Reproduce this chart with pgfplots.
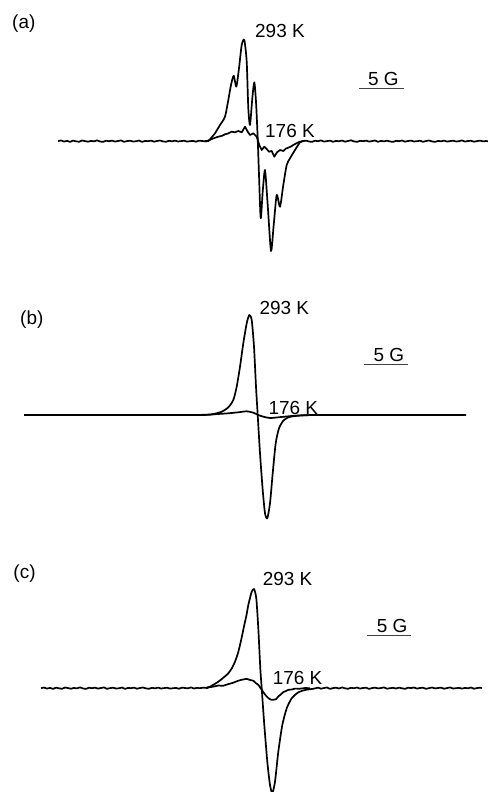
\documentclass[border=0pt]{standalone}
\usepackage{fontspec}
\setmainfont{Liberation Sans}
\usepackage{pgfplots}
\pgfplotsset{compat=1.18}
\tikzset{lab/.style={font=\fontsize{19}{21}\selectfont, inner sep=0pt, anchor=base west}}
\pgfplotsset{spec/.style={black, line width=1.7bp, no markers, smooth, tension=0.4, line join=round},
  noisy/.style={black, line width=1.7bp, no markers, sharp plot, line join=round}}
\begin{document}
\begin{tikzpicture}
\begin{axis}[
  scale only axis, width=488bp, height=792bp,
  xmin=0, xmax=488, ymin=0, ymax=792, y dir=reverse,
  hide axis,
]
% ---------- panel (a) ----------
\addplot[noisy] coordinates {
(58,141.2)(61,140.4)(64,141.6)(67,140.8)(70,141.9)(73,140.6)(76,141.3)(79,141.8)(82,140.5)(85,141.1)
(88,141.7)(91,140.9)(94,141.4)(97,140.3)(100,141.5)(103,141.9)(106,140.7)(109,141.2)(112,140.6)(115,141.6)
(118,141.0)(121,140.4)(124,141.8)(127,141.1)(130,140.7)(133,141.5)(136,141.3)(139,140.5)(142,141.9)(145,140.9)
(148,141.2)(151,140.6)(154,141.7)(157,141.0)(160,140.5)(163,141.4)(166,141.8)(169,140.8)(172,141.3)(175,140.6)
(178,141.5)(181,141.1)(184,140.7)(187,141.6)(190,141.2)(193,140.9)(196,141.7)(199,140.6)(202,141.0)(205,141.3)
(208.3,141)
};
\addplot[spec] coordinates {
(205,141.3)(208.3,141)(211.5,137.5)(215,133.3)(220,125)(225,116.7)(228.3,100)(231,85)(233.7,75.7)(236.3,86.7)(239,68.3)
(241.7,45)(244.3,40)(246.7,61.7)(248.3,108.3)(250,125)(252.3,98.3)(254.3,82.3)(256,101.7)(257.7,138.3)(259,175)
(260.7,218.3)(262.7,191.7)(265,170)(267.7,205)(271,251)(273.7,225)(276.7,195)(280,206.7)(283.3,185)(286.7,165)
(290,158.3)(295,150)(300,142.3)(303,141.2)
};
\addplot[noisy] coordinates {
(303,141.2)(306,140.6)(309,141.5)(312,141.9)(315,140.7)(318,141.2)(321,140.4)(324,141.6)(327,141.1)(330,140.6)(333,141.8)
(336,140.9)(339,141.3)(342,140.5)(345,141.7)(348,141.0)(351,140.3)(354,141.4)(357,141.9)(360,140.8)(363,141.2)
(366,140.6)(369,141.6)(372,141.1)(375,140.5)(378,141.8)(381,140.9)(384,141.4)(387,140.7)(390,141.5)(393,141.9)
(396,140.8)(399,141.2)(402,140.5)(405,141.7)(408,141.0)(411,140.6)(414,141.5)(417,141.2)(420,140.7)(423,141.8)
(426,141.0)(429,140.5)(432,141.4)(435,141.9)(438,140.9)(441,141.3)(444,140.6)(447,141.6)(450,141.1)(453,140.7)
(456,141.5)(459,141.2)(462,140.4)(465,141.6)(468,141.0)(471,140.8)(474,141.7)(477,141.1)(480,140.6)(483,141.4)
(486,141.0)(488,141.3)
};
\addplot[noisy] coordinates {
(205,141.2)(208.3,140.6)(213,138.5)(218.3,136.7)(222,135.8)(225,134.3)(228,133.5)(231.7,131.7)(235,132.3)
(238.3,131)(241.7,132.3)(245,126.7)(247.7,131.7)(250,135)(253.3,133.3)(256.7,136.7)(259.3,145)(261.7,150)
(264.3,146.7)(266.7,149)(269,151.7)(271.7,151)(274.3,156.7)(277,152.3)(280,150)(283.3,151)(286,148.5)
(288.3,147.7)(291,146.5)(293.3,145)(296,143.5)(298.3,142.3)(301,141.5)(303.3,141)
};
\node[lab] at (axis cs:12,28.3) {(a)};
\node[lab] at (axis cs:255,37.3) {293 K};
\node[lab] at (axis cs:265,137.3) {176 K};
\node[lab] at (axis cs:368,85.3) {5 G};
\draw[line width=0.8bp, black!75] (axis cs:359,88) -- (axis cs:404,88);
% ---------- panel (b) ----------
\addplot[spec] coordinates {
(24,415)(100,415)(180,415)(200,414.9)(211.7,414.3)(221.7,411.7)(228.3,407.3)(233.3,400)(236.7,386.7)
(240,366.7)(243.3,343.3)(246.7,323.3)(249.3,315)(251.7,320)(254,346.7)(256,386.7)(257.7,415)(260,453.3)
(262.7,490)(265,513.3)(267.3,518.3)(270,503.3)(272.7,473.3)(275.7,443.3)(279,428.3)(283.3,420.7)
(288.3,417.3)(295,416)(305,415.3)(320,415)(400,415)(466,415)
};
\addplot[spec] coordinates {
(200,415)(208.3,414.8)(218,414)(228.3,413.3)(238.3,412.3)(246.7,411.3)(253.3,412.7)(258.3,415)
(263.3,416.7)(270,418)(278.3,417.3)(288.3,416.3)(301.7,415.3)(315,415)
};
\node[lab] at (axis cs:20,324) {(b)};
\node[lab] at (axis cs:259.3,314.7) {293 K};
\node[lab] at (axis cs:268.3,414) {176 K};
\node[lab] at (axis cs:373.3,361.7) {5 G};
\draw[line width=0.8bp, black!75] (axis cs:364,364.7) -- (axis cs:408.3,364.7);
% ---------- panel (c) ----------
\addplot[noisy] coordinates {
(41,688.2)(44,687.5)(47,688.6)(50,687.8)(53,688.9)(56,687.6)(59,688.3)(62,688.8)(65,687.5)(68,688.1)
(71,688.7)(74,687.9)(77,688.4)(80,687.3)(83,688.5)(86,688.9)(89,687.7)(92,688.2)(95,687.6)(98,688.6)
(101,688.0)(104,687.4)(107,688.8)(110,688.1)(113,687.7)(116,688.5)(119,688.3)(122,687.5)(125,688.9)(128,687.9)
(131,688.2)(134,687.6)(137,688.7)(140,688.0)(143,687.5)(146,688.4)(149,688.8)(152,687.8)(155,688.3)(158,687.6)
(161,688.5)(164,688.1)(167,687.7)(170,688.6)(173,688.2)(176,687.9)(179,688.7)(182,687.6)(185,688.0)(188,688.3)
(191,687.4)(194,688.5)(197,687.8)(200,688.2)(203,687.6)(206,687.9)(208.3,687.5)
};
\addplot[spec] coordinates {
(206,687.9)(208.3,687.5)(213,685)(218.3,681.7)(223,678)(228.3,673.3)(232,668)(235,661.7)(238,653)(240,645)(242,636)
(244.3,625)(246.5,615)(248.3,605)(250,598)(251.7,591.7)(254,589)(256.3,598.3)(258.3,628.3)(260.3,668.3)
(261.7,688.3)(264.3,725)(267.3,761.7)(270,785)(272.3,793)(275,781.7)(278.3,751.7)(282.3,725)(286.7,708.3)
(291.7,698.3)(298.3,692.3)(305,690)(311.7,689)(315,688.4)
};
\addplot[noisy] coordinates {
(315,688.4)(318,687.6)(321,688.7)(324,688.0)(327,687.5)(330,688.9)(333,688.1)(336,687.7)(339,688.5)(342,687.4)
(345,688.3)(348,688.8)(351,687.8)(354,688.2)(357,687.5)(360,688.6)(363,688.0)(366,687.7)(369,688.9)(372,688.1)
(375,687.6)(378,688.4)(381,688.0)(384,687.4)(387,688.7)(390,688.2)(393,687.8)(396,688.5)(399,687.6)(402,688.3)
(405,688.9)(408,687.7)(411,688.1)(414,687.5)(417,688.6)(420,688.0)(423,687.7)(426,688.8)(429,688.2)(432,687.5)
(435,688.4)(438,688.0)(441,687.6)(444,688.7)(447,688.1)(450,687.4)(453,688.5)(456,688.2)(459,687.8)(462,688.6)
(465,687.9)(468,688.3)(471,687.5)(474,688.7)(477,688.1)(480,687.6)(482,688.2)
};
\addplot[noisy] coordinates {
(206,688)(208.3,687.3)(213,686.7)(218.3,685.5)(223,685.8)(228.3,684.1)(233,682.8)(238.3,680.7)(242,679.7)
(246.7,678.8)(250,680.0)(253.3,680.7)(256,683.2)(258.3,684.8)(261,688.7)(263.3,692.1)(266,695.7)(268.3,698.1)
(271,699.7)(273.3,699.8)(276,699.2)(278.3,696.5)(281,694.2)(283.3,692.1)(286,691.0)(288.3,689.8)(292,689.5)
(295,688.6)(300,688.7)(305,688.0)(310,688.2)
};
\node[lab] at (axis cs:13.3,578) {(c)};
\node[lab] at (axis cs:262.7,585.3) {293 K};
\node[lab] at (axis cs:272.7,684) {176 K};
\node[lab] at (axis cs:376.7,632.3) {5 G};
\draw[line width=0.8bp, black!75] (axis cs:367.3,635.3) -- (axis cs:411,635.3);
\end{axis}
\path (current axis.south west) rectangle (current axis.north east);
\end{tikzpicture}
\end{document}
